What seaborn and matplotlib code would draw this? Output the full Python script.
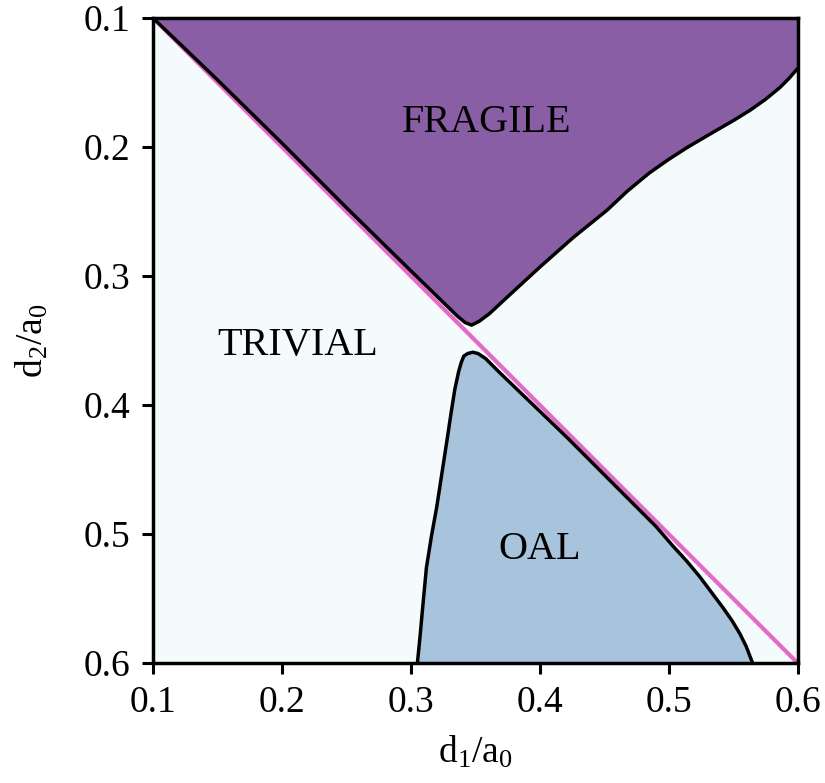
import matplotlib
matplotlib.use("Agg")
import matplotlib.pyplot as plt
import seaborn as sns
import pandas as pd

# ---- data ----
ticks = [0.1, 0.2, 0.3, 0.4, 0.5, 0.6]
tick_labels = ["0.1", "0.2", "0.3", "0.4", "0.5", "0.6"]

diag_x = [0.1, 0.6]
diag_y = [0.1, 0.6]

# FRAGILE boundary (curved part, from right edge around the tip back to origin)
frag_x = [0.600, 0.593, 0.586, 0.575, 0.563, 0.550, 0.537, 0.525, 0.514, 0.500, 0.485,
          0.468, 0.452, 0.426, 0.400, 0.375, 0.361, 0.353, 0.347, 0.342, 0.336, 0.300,
          0.250, 0.200, 0.150, 0.100]
frag_y = [0.139, 0.147, 0.154, 0.163, 0.1715, 0.1795, 0.187, 0.194, 0.2005, 0.2095, 0.220,
          0.234, 0.249, 0.270, 0.293, 0.316, 0.329, 0.335, 0.338, 0.336, 0.331, 0.296,
          0.247, 0.197, 0.148, 0.100]

# OAL boundary
oal_x = [0.305, 0.307, 0.309, 0.312, 0.316, 0.320, 0.324, 0.328, 0.331, 0.334, 0.337,
         0.339, 0.341, 0.344, 0.348, 0.352, 0.358, 0.369, 0.421, 0.472, 0.490, 0.503,
         0.514, 0.524, 0.533, 0.542, 0.549, 0.555, 0.560, 0.565]
oal_y = [0.600, 0.580, 0.558, 0.526, 0.501, 0.479, 0.453, 0.427, 0.407, 0.388, 0.374,
         0.367, 0.362, 0.360, 0.359, 0.360, 0.364, 0.375, 0.425, 0.476, 0.494, 0.509,
         0.521, 0.533, 0.545, 0.557, 0.567, 0.577, 0.587, 0.600]

labels = ["FRAGILE", "TRIVIAL", "OAL"]
label_x = [0.359, 0.212, 0.400]
label_y = [0.181, 0.354, 0.512]

# ---- style ----
sns.set_style("ticks")
plt.rcParams["font.family"] = ["Liberation Serif", "DejaVu Serif"]
plt.rcParams["mathtext.fontset"] = "custom"
plt.rcParams["mathtext.rm"] = "Liberation Serif"
plt.rcParams["text.color"] = "black"
plt.rcParams["axes.labelcolor"] = "black"
plt.rcParams["xtick.color"] = "black"
plt.rcParams["ytick.color"] = "black"

fig = plt.figure(figsize=(8.25, 7.83), dpi=100)
ax = fig.add_axes([0.1855, 0.153, 0.967 - 0.1855, 0.977 - 0.153])
ax.set_facecolor("#F5FBFC")

purple = "#895EA5"
blue = "#A8C3DC"
pink = "#E469C9"

fx = [0.1, 0.6] + frag_x
fy = [0.1, 0.1] + frag_y
ax.fill(fx, fy, color=purple, lw=0, zorder=1)
ax.fill(oal_x, oal_y, color=blue, lw=0, zorder=1)

sns.lineplot(x=diag_x, y=diag_y, color=pink, lw=3, ax=ax, zorder=2)
sns.lineplot(data=pd.DataFrame({"x": frag_x, "y": frag_y}), x="x", y="y",
             sort=False, color="black", lw=2.5, ax=ax, zorder=3,
             solid_joinstyle="round")
sns.lineplot(data=pd.DataFrame({"x": oal_x, "y": oal_y}), x="x", y="y",
             sort=False, color="black", lw=2.5, ax=ax, zorder=3,
             solid_joinstyle="round")

for t, x, y in zip(labels, label_x, label_y):
    ax.text(x, y, t, ha="center", va="center", fontsize=29, color="black", zorder=4)

ax.set_xlim(0.1, 0.6)
ax.set_ylim(0.6, 0.1)
ax.set_xticks(ticks)
ax.set_xticklabels(tick_labels)
ax.set_yticks(ticks)
ax.set_yticklabels(tick_labels)
ax.tick_params(axis="both", labelsize=27, length=8, width=2.2, direction="out",
               colors="black", pad=8)
for s in ax.spines.values():
    s.set_visible(True)
    s.set_linewidth(2.5)
    s.set_color("black")
    s.set_zorder(5)

ax.set_xlabel(r"$\mathregular{d_1/a_0}$", fontsize=27, labelpad=10, color="black")
ax.set_ylabel(r"$\mathregular{d_2/a_0}$", fontsize=27, labelpad=24, color="black")

fig.savefig("out.png", dpi=100)
